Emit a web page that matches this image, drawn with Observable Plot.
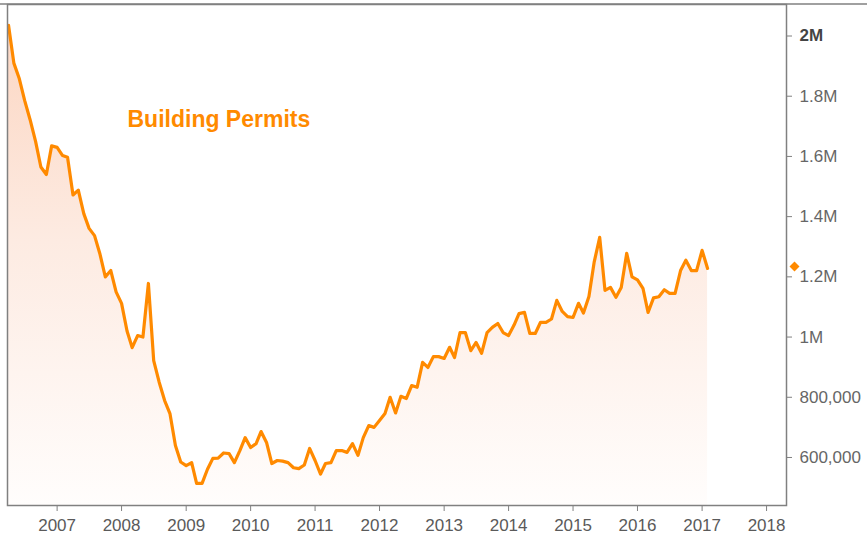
<!DOCTYPE html>
<html><head><meta charset="utf-8">
<script src="https://cdn.jsdelivr.net/npm/d3@7"></script>
<script src="https://cdn.jsdelivr.net/npm/@observablehq/plot@0.6"></script>
<style>
body{margin:0;background:#fff}
#chart{width:867px;height:540px;overflow:hidden}
</style>
</head><body><div id="chart"></div>
<script>
// Monthly building permits (thousands, SAAR)
const firstYear = 2006, firstMonth = 4;
const permits2006 = [2035,1910,1858,1786,1722,1650,1565,1540,1635]; // Apr–Dec
const permits2007 = [1630,1603,1597,1472,1488,1410,1361,1337,1275,1200,1221,1150];
const permits2008 = [1112,1020,965,1005,1000,1178,922,850,789,746,640,585];
const permits2009 = [573,583,514,514,560,597,598,615,613,583,623,666];
const permits2010 = [633,646,686,650,580,590,588,583,566,563,575,630];
const permits2011 = [590,545,580,583,623,623,617,646,607,666,706,700];
const permits2012 = [723,746,800,748,803,796,839,833,916,899,935,935];
const permits2013 = [929,966,932,1015,1015,955,982,946,1015,1032,1045,1015];
const permits2014 = [1005,1040,1078,1082,1012,1012,1049,1049,1060,1122,1085,1068];
const permits2015 = [1065,1112,1080,1135,1250,1331,1155,1165,1132,1165,1278,1200];
const permits2016 = [1190,1162,1082,1130,1134,1157,1145,1145,1221,1255,1221,1221];
const permits2017 = [1288,1228]; // Jan–Feb

const yTicks = [600000,800000,1000000,1200000,1400000,1600000,1800000,2000000];
const xTickYears = [2007,2008,2009,2010,2011,2012,2013,2014,2015,2016,2017,2018];
const seriesLabel = "Building Permits";

const yDomain = [440500, 2104650];
const xDomain = [new Date(Date.UTC(2006,2,26)), new Date(Date.UTC(2018,3,24))];

const allValues = [].concat(permits2006,permits2007,permits2008,permits2009,permits2010,
  permits2011,permits2012,permits2013,permits2014,permits2015,permits2016,permits2017);
const data = allValues.map((v,i) => ({
  date: new Date(Date.UTC(firstYear, firstMonth - 1 + i, 1)),
  value: v * 1000
}));
const last = data[data.length - 1];

const orange = "#ff8a00";

const defsMark = () => {
  const defs = d3.create("svg:defs");
  const g = defs.append("linearGradient").attr("id","permitGrad")
    .attr("x1",0).attr("y1",0).attr("x2",0).attr("y2",1);
  g.append("stop").attr("offset","0%").attr("stop-color","#fcd6c2");
  g.append("stop").attr("offset","45%").attr("stop-color","#fdebe2");
  g.append("stop").attr("offset","100%").attr("stop-color","#fffdfc");
  return defs.node();
};

const fmt = v => v >= 1e6 ? d3.format("~g")(v/1e6) + "M" : d3.format(",")(v);

const chart = Plot.plot({
  width: 867, height: 540,
  marginLeft: 7, marginRight: 81, marginTop: 4, marginBottom: 35,
  style: {fontFamily: "'Liberation Sans', Arial, sans-serif", fontSize: "17px", color: "#666", background: "#fff"},
  x: {type: "utc", domain: xDomain, label: null},
  y: {domain: yDomain, label: null},
  marks: [
    defsMark,
    Plot.areaY(data, {x: "date", y1: yDomain[0], y2: "value", fill: "url(#permitGrad)"}),
    Plot.lineY(data, {x: "date", y: "value", stroke: orange, strokeWidth: 3.2}),
    Plot.frame({stroke: "#808080", strokeWidth: 1.5}),
    Plot.axisY({anchor: "right", ticks: yTicks, tickSize: 5, tickPadding: 8, tickFormat: fmt, label: null}),
    Plot.axisX({ticks: xTickYears.map(y => new Date(Date.UTC(y,0,1))), tickSize: 6, tickPadding: 7, tickFormat: d3.utcFormat("%Y"), label: null}),
    Plot.dot([last], {x: () => xDomain[1], y: "value", symbol: "diamond2", r: 4.5, fill: orange, dx: 8, dy: -2}),
    Plot.text([seriesLabel], {frameAnchor: "top-left", dx: 120, dy: 115, textAnchor: "start", lineAnchor: "middle",
      fill: orange, fontWeight: "bold", fontSize: 23})
  ]
});

const svg = d3.select(chart);
svg.selectAll("g[aria-label='y-axis tick'] path, g[aria-label='x-axis tick'] path").attr("stroke", "#808080");
svg.selectAll("g[aria-label='y-axis tick label'] text").filter(function(){ return this.textContent === "2M"; })
  .attr("font-weight", "bold").attr("fill", "#444");
svg.selectAll("g[aria-label='x-axis tick label'] text").attr("fill", "#5a5a5a");
svg.append("line").attr("x1", 0).attr("x2", 867).attr("y1", 4).attr("y2", 4)
  .attr("stroke", "#808080").attr("stroke-width", 1.5);
document.getElementById("chart").appendChild(chart);
</script>
</body></html>
